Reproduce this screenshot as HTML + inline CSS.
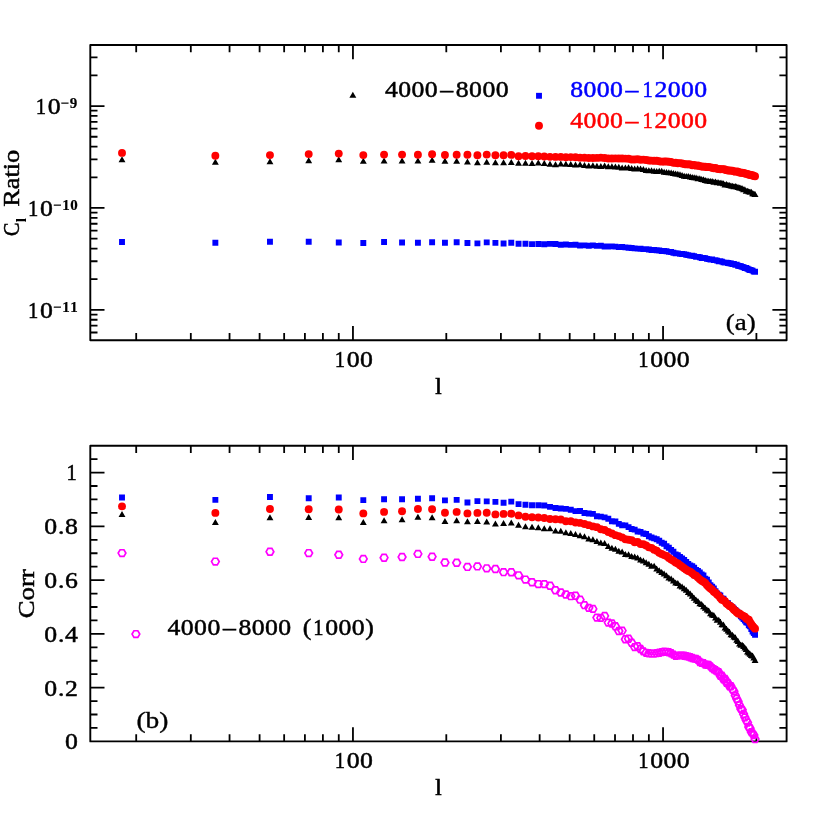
<!DOCTYPE html>
<html><head><meta charset="utf-8"><title>plot</title>
<style>html,body{margin:0;padding:0;background:#fff}svg{display:block;will-change:transform}</style></head>
<body>
<svg width="830" height="830" viewBox="0 0 830 830">
<rect x="90.3" y="45.0" width="696.30" height="295.30" fill="none" stroke="#000" stroke-width="1.9" stroke-linejoin="round"/>
<rect x="90.3" y="445.7" width="696.30" height="295.70" fill="none" stroke="#000" stroke-width="1.9" stroke-linejoin="round"/>
<path fill="none" stroke="#000" stroke-width="1.8" d="M136.20 340.3v-7.2M136.20 45.0v7.2M190.81 340.3v-7.2M190.81 45.0v7.2M229.55 340.3v-7.2M229.55 45.0v7.2M259.60 340.3v-7.2M259.60 45.0v7.2M284.15 340.3v-7.2M284.15 45.0v7.2M304.91 340.3v-7.2M304.91 45.0v7.2M322.90 340.3v-7.2M322.90 45.0v7.2M338.76 340.3v-7.2M338.76 45.0v7.2M352.95 340.3v-14.2M352.95 45.0v14.2M446.30 340.3v-7.2M446.30 45.0v7.2M500.91 340.3v-7.2M500.91 45.0v7.2M539.65 340.3v-7.2M539.65 45.0v7.2M569.70 340.3v-7.2M569.70 45.0v7.2M594.25 340.3v-7.2M594.25 45.0v7.2M615.01 340.3v-7.2M615.01 45.0v7.2M633.00 340.3v-7.2M633.00 45.0v7.2M648.86 340.3v-7.2M648.86 45.0v7.2M663.05 340.3v-14.2M663.05 45.0v14.2M756.40 340.3v-7.2M756.40 45.0v7.2M136.20 741.4v-7.2M136.20 445.7v7.2M190.81 741.4v-7.2M190.81 445.7v7.2M229.55 741.4v-7.2M229.55 445.7v7.2M259.60 741.4v-7.2M259.60 445.7v7.2M284.15 741.4v-7.2M284.15 445.7v7.2M304.91 741.4v-7.2M304.91 445.7v7.2M322.90 741.4v-7.2M322.90 445.7v7.2M338.76 741.4v-7.2M338.76 445.7v7.2M352.95 741.4v-14.2M352.95 445.7v14.2M446.30 741.4v-7.2M446.30 445.7v7.2M500.91 741.4v-7.2M500.91 445.7v7.2M539.65 741.4v-7.2M539.65 445.7v7.2M569.70 741.4v-7.2M569.70 445.7v7.2M594.25 741.4v-7.2M594.25 445.7v7.2M615.01 741.4v-7.2M615.01 445.7v7.2M633.00 741.4v-7.2M633.00 445.7v7.2M648.86 741.4v-7.2M648.86 445.7v7.2M663.05 741.4v-14.2M663.05 445.7v14.2M756.40 741.4v-7.2M756.40 445.7v7.2M90.3 332.50h7.2M786.6 332.50h-7.2M90.3 325.68h7.2M786.6 325.68h-7.2M90.3 319.77h7.2M786.6 319.77h-7.2M90.3 314.55h7.2M786.6 314.55h-7.2M90.3 309.89h14.2M786.6 309.89h-14.2M90.3 279.21h7.2M786.6 279.21h-7.2M90.3 261.26h7.2M786.6 261.26h-7.2M90.3 248.53h7.2M786.6 248.53h-7.2M90.3 238.65h7.2M786.6 238.65h-7.2M90.3 230.58h7.2M786.6 230.58h-7.2M90.3 223.76h7.2M786.6 223.76h-7.2M90.3 217.85h7.2M786.6 217.85h-7.2M90.3 212.63h7.2M786.6 212.63h-7.2M90.3 207.97h14.2M786.6 207.97h-14.2M90.3 177.29h7.2M786.6 177.29h-7.2M90.3 159.34h7.2M786.6 159.34h-7.2M90.3 146.61h7.2M786.6 146.61h-7.2M90.3 136.73h7.2M786.6 136.73h-7.2M90.3 128.66h7.2M786.6 128.66h-7.2M90.3 121.84h7.2M786.6 121.84h-7.2M90.3 115.93h7.2M786.6 115.93h-7.2M90.3 110.71h7.2M786.6 110.71h-7.2M90.3 106.05h14.2M786.6 106.05h-14.2M90.3 75.37h7.2M786.6 75.37h-7.2M90.3 57.42h7.2M786.6 57.42h-7.2M90.3 727.96h7.2M786.6 727.96h-7.2M90.3 714.52h7.2M786.6 714.52h-7.2M90.3 701.08h7.2M786.6 701.08h-7.2M90.3 687.64h14.2M786.6 687.64h-14.2M90.3 674.20h7.2M786.6 674.20h-7.2M90.3 660.75h7.2M786.6 660.75h-7.2M90.3 647.31h7.2M786.6 647.31h-7.2M90.3 633.87h14.2M786.6 633.87h-14.2M90.3 620.43h7.2M786.6 620.43h-7.2M90.3 606.99h7.2M786.6 606.99h-7.2M90.3 593.55h7.2M786.6 593.55h-7.2M90.3 580.11h14.2M786.6 580.11h-14.2M90.3 566.67h7.2M786.6 566.67h-7.2M90.3 553.23h7.2M786.6 553.23h-7.2M90.3 539.79h7.2M786.6 539.79h-7.2M90.3 526.35h14.2M786.6 526.35h-14.2M90.3 512.90h7.2M786.6 512.90h-7.2M90.3 499.46h7.2M786.6 499.46h-7.2M90.3 486.02h7.2M786.6 486.02h-7.2M90.3 472.58h14.2M786.6 472.58h-14.2M90.3 459.14h7.2M786.6 459.14h-7.2"/>
<path fill="#000" d="M118.56 162.15L125.46 162.15L122.01 156.15ZM211.91 164.75L218.81 164.75L215.36 158.75ZM266.52 164.35L273.42 164.35L269.97 158.35ZM305.26 163.15L312.16 163.15L308.71 157.15ZM335.31 162.15L342.21 162.15L338.76 156.15ZM359.86 163.85L366.76 163.85L363.31 157.85ZM380.62 163.55L387.52 163.55L384.07 157.55ZM398.61 163.55L405.51 163.55L402.06 157.55ZM414.47 163.55L421.37 163.55L417.92 157.55ZM428.66 162.85L435.56 162.85L432.11 156.85ZM441.50 163.75L448.40 163.75L444.95 157.75ZM453.21 163.75L460.11 163.75L456.66 157.75ZM463.99 164.55L470.89 164.55L467.44 158.55ZM473.97 165.15L480.87 165.15L477.42 159.15ZM483.27 164.65L490.17 164.65L486.72 158.65ZM491.96 165.25L498.86 165.25L495.41 159.25ZM500.12 165.25L507.02 165.25L503.57 159.25ZM507.82 164.95L514.72 164.95L511.27 158.95ZM515.10 165.75L522.00 165.75L518.55 159.75ZM522.01 165.72L528.91 165.72L525.46 159.72ZM528.58 165.91L535.48 165.91L532.03 159.91ZM534.85 165.54L541.75 165.54L538.30 159.54ZM540.83 166.05L547.73 166.05L544.28 160.05ZM546.56 166.81L553.46 166.81L550.01 160.81ZM552.06 167.14L558.96 167.14L555.51 161.14ZM557.34 166.51L564.24 166.51L560.79 160.51ZM562.43 166.87L569.33 166.87L565.88 160.87ZM567.32 166.91L574.22 166.91L570.77 160.91ZM572.05 167.58L578.95 167.58L575.50 161.58ZM576.62 167.29L583.52 167.29L580.07 161.29ZM581.03 167.99L587.93 167.99L584.48 161.99ZM585.31 168.41L592.21 168.41L588.76 162.41ZM589.45 168.16L596.35 168.16L592.90 162.16ZM593.47 168.83L600.37 168.83L596.92 162.83ZM597.38 168.93L604.28 168.93L600.83 162.93ZM601.17 168.46L608.07 168.46L604.62 162.46ZM604.86 169.32L611.76 169.32L608.31 163.32ZM608.45 169.18L615.35 169.18L611.90 163.18ZM611.95 169.60L618.85 169.60L615.40 163.60ZM615.36 169.69L622.26 169.69L618.81 163.69ZM618.68 170.43L625.58 170.43L622.13 164.43ZM621.93 170.38L628.83 170.38L625.38 164.38ZM625.10 170.30L632.00 170.30L628.55 164.30ZM628.19 171.03L635.09 171.03L631.64 165.03ZM631.22 171.59L638.12 171.59L634.67 165.59ZM634.18 171.30L641.08 171.30L637.63 165.30ZM637.08 171.48L643.98 171.48L640.53 165.48ZM639.91 171.97L646.81 171.97L643.36 165.97ZM642.69 172.92L649.59 172.92L646.14 166.92ZM645.41 173.27L652.31 173.27L648.86 167.27ZM648.08 173.20L654.98 173.20L651.53 167.20ZM650.69 173.79L657.59 173.79L654.14 167.79ZM653.26 174.03L660.16 174.03L656.71 168.03ZM655.78 173.78L662.68 173.78L659.23 167.78ZM658.25 173.76L665.15 173.76L661.70 167.76ZM660.67 174.78L667.57 174.78L664.12 168.78ZM663.06 175.04L669.96 175.04L666.51 169.04ZM665.40 175.21L672.30 175.21L668.85 169.21ZM667.70 175.45L674.60 175.45L671.15 169.45ZM669.96 176.10L676.86 176.10L673.41 170.10ZM672.19 176.61L679.09 176.61L675.64 170.61ZM674.38 176.81L681.28 176.81L677.83 170.81ZM676.54 177.29L683.44 177.29L679.99 171.29ZM678.66 177.93L685.56 177.93L682.11 171.93ZM680.74 178.86L687.64 178.86L684.19 172.86ZM682.80 178.97L689.70 178.97L686.25 172.97ZM684.83 179.04L691.73 179.04L688.28 173.04ZM686.82 179.47L693.72 179.47L690.27 173.47ZM688.79 180.10L695.69 180.10L692.24 174.10ZM690.72 180.21L697.62 180.21L694.17 174.21ZM692.64 180.60L699.54 180.60L696.09 174.60ZM694.52 181.36L701.42 181.36L697.97 175.36ZM696.38 181.22L703.28 181.22L699.83 175.22ZM698.21 182.05L705.11 182.05L701.66 176.05ZM700.02 182.26L706.92 182.26L703.47 176.26ZM701.80 183.02L708.70 183.02L705.25 177.02ZM703.56 183.41L710.46 183.41L707.01 177.41ZM705.30 183.68L712.20 183.68L708.75 177.68ZM707.01 184.01L713.91 184.01L710.46 178.01ZM708.71 183.97L715.61 183.97L712.16 177.97ZM710.38 184.67L717.28 184.67L713.83 178.67ZM712.03 184.61L718.93 184.61L715.48 178.61ZM713.67 185.24L720.57 185.24L717.12 179.24ZM715.28 185.29L722.18 185.29L718.73 179.29ZM716.87 185.78L723.77 185.78L720.32 179.78ZM718.45 185.66L725.35 185.66L721.90 179.66ZM720.00 186.22L726.90 186.22L723.45 180.22ZM721.54 187.44L728.44 187.44L724.99 181.44ZM723.07 186.90L729.97 186.90L726.52 180.90ZM724.57 187.81L731.47 187.81L728.02 181.81ZM726.06 188.12L732.96 188.12L729.51 182.12ZM727.53 188.59L734.43 188.59L730.98 182.59ZM728.99 188.67L735.89 188.67L732.44 182.67ZM730.43 189.22L737.33 189.22L733.88 183.22ZM731.85 188.99L738.75 188.99L735.30 182.99ZM733.26 189.42L740.16 189.42L736.71 183.42ZM734.66 190.00L741.56 190.00L738.11 184.00ZM736.04 190.39L742.94 190.39L739.49 184.39ZM737.41 190.77L744.31 190.77L740.86 184.77ZM738.76 191.27L745.66 191.27L742.21 185.27ZM740.10 192.24L747.00 192.24L743.55 186.24ZM741.43 192.28L748.33 192.28L744.88 186.28ZM742.74 193.68L749.64 193.68L746.19 187.68ZM744.04 193.84L750.94 193.84L747.49 187.84ZM745.33 194.17L752.23 194.17L748.78 188.17ZM746.61 194.87L753.51 194.87L750.06 188.87ZM747.87 194.84L754.77 194.84L751.32 188.84ZM749.12 196.15L756.02 196.15L752.57 190.15ZM750.37 196.56L757.27 196.56L753.82 190.56ZM751.60 196.94L758.50 196.94L755.05 190.94Z"/>
<path fill="#00f" d="M119.06 239.05h5.9v5.9h-5.9ZM212.41 239.85h5.9v5.9h-5.9ZM267.02 238.85h5.9v5.9h-5.9ZM305.76 238.85h5.9v5.9h-5.9ZM335.81 239.55h5.9v5.9h-5.9ZM360.36 240.05h5.9v5.9h-5.9ZM381.12 239.05h5.9v5.9h-5.9ZM399.11 239.55h5.9v5.9h-5.9ZM414.97 239.85h5.9v5.9h-5.9ZM429.16 239.35h5.9v5.9h-5.9ZM442.00 239.85h5.9v5.9h-5.9ZM453.71 239.35h5.9v5.9h-5.9ZM464.49 240.05h5.9v5.9h-5.9ZM474.47 240.45h5.9v5.9h-5.9ZM483.77 239.45h5.9v5.9h-5.9ZM492.46 239.95h5.9v5.9h-5.9ZM500.62 240.55h5.9v5.9h-5.9ZM508.32 239.85h5.9v5.9h-5.9ZM515.60 240.85h5.9v5.9h-5.9ZM522.51 240.74h5.9v5.9h-5.9ZM529.08 241.17h5.9v5.9h-5.9ZM535.35 241.06h5.9v5.9h-5.9ZM541.33 241.29h5.9v5.9h-5.9ZM547.06 240.89h5.9v5.9h-5.9ZM552.56 241.08h5.9v5.9h-5.9ZM557.84 241.74h5.9v5.9h-5.9ZM562.93 241.60h5.9v5.9h-5.9ZM567.82 241.90h5.9v5.9h-5.9ZM572.55 241.82h5.9v5.9h-5.9ZM577.12 242.56h5.9v5.9h-5.9ZM581.53 242.41h5.9v5.9h-5.9ZM585.81 242.82h5.9v5.9h-5.9ZM589.95 242.47h5.9v5.9h-5.9ZM593.97 242.95h5.9v5.9h-5.9ZM597.88 242.85h5.9v5.9h-5.9ZM601.67 243.62h5.9v5.9h-5.9ZM605.36 243.52h5.9v5.9h-5.9ZM608.95 243.46h5.9v5.9h-5.9ZM612.45 243.68h5.9v5.9h-5.9ZM615.86 244.22h5.9v5.9h-5.9ZM619.18 244.12h5.9v5.9h-5.9ZM622.43 244.42h5.9v5.9h-5.9ZM625.60 244.83h5.9v5.9h-5.9ZM628.69 245.12h5.9v5.9h-5.9ZM631.72 245.42h5.9v5.9h-5.9ZM634.68 245.70h5.9v5.9h-5.9ZM637.58 245.78h5.9v5.9h-5.9ZM640.41 246.21h5.9v5.9h-5.9ZM643.19 246.15h5.9v5.9h-5.9ZM645.91 246.49h5.9v5.9h-5.9ZM648.58 247.13h5.9v5.9h-5.9ZM651.19 246.95h5.9v5.9h-5.9ZM653.76 247.27h5.9v5.9h-5.9ZM656.28 247.56h5.9v5.9h-5.9ZM658.75 248.01h5.9v5.9h-5.9ZM661.17 247.98h5.9v5.9h-5.9ZM663.56 248.32h5.9v5.9h-5.9ZM665.90 248.95h5.9v5.9h-5.9ZM668.20 249.09h5.9v5.9h-5.9ZM670.46 249.80h5.9v5.9h-5.9ZM672.69 250.25h5.9v5.9h-5.9ZM674.88 250.46h5.9v5.9h-5.9ZM677.04 250.92h5.9v5.9h-5.9ZM679.16 251.08h5.9v5.9h-5.9ZM681.24 251.21h5.9v5.9h-5.9ZM683.30 251.86h5.9v5.9h-5.9ZM685.33 252.19h5.9v5.9h-5.9ZM687.32 252.71h5.9v5.9h-5.9ZM689.29 252.76h5.9v5.9h-5.9ZM691.22 253.18h5.9v5.9h-5.9ZM693.14 253.95h5.9v5.9h-5.9ZM695.02 253.91h5.9v5.9h-5.9ZM696.88 254.36h5.9v5.9h-5.9ZM698.71 255.06h5.9v5.9h-5.9ZM700.52 254.95h5.9v5.9h-5.9ZM702.30 255.20h5.9v5.9h-5.9ZM704.06 255.94h5.9v5.9h-5.9ZM705.80 256.20h5.9v5.9h-5.9ZM707.51 256.58h5.9v5.9h-5.9ZM709.21 256.52h5.9v5.9h-5.9ZM710.88 257.13h5.9v5.9h-5.9ZM712.53 257.18h5.9v5.9h-5.9ZM714.17 257.68h5.9v5.9h-5.9ZM715.78 258.32h5.9v5.9h-5.9ZM717.37 258.17h5.9v5.9h-5.9ZM718.95 258.63h5.9v5.9h-5.9ZM720.50 259.41h5.9v5.9h-5.9ZM722.04 259.68h5.9v5.9h-5.9ZM723.57 259.64h5.9v5.9h-5.9ZM725.07 260.12h5.9v5.9h-5.9ZM726.56 260.36h5.9v5.9h-5.9ZM728.03 260.57h5.9v5.9h-5.9ZM729.49 261.18h5.9v5.9h-5.9ZM730.93 261.07h5.9v5.9h-5.9ZM732.35 261.91h5.9v5.9h-5.9ZM733.76 261.76h5.9v5.9h-5.9ZM735.16 262.75h5.9v5.9h-5.9ZM736.54 263.05h5.9v5.9h-5.9ZM737.91 263.33h5.9v5.9h-5.9ZM739.26 263.95h5.9v5.9h-5.9ZM740.60 264.27h5.9v5.9h-5.9ZM741.93 264.98h5.9v5.9h-5.9ZM743.24 265.01h5.9v5.9h-5.9ZM744.54 265.79h5.9v5.9h-5.9ZM745.83 266.55h5.9v5.9h-5.9ZM747.11 267.12h5.9v5.9h-5.9ZM748.37 267.15h5.9v5.9h-5.9ZM749.62 267.71h5.9v5.9h-5.9ZM750.87 268.71h5.9v5.9h-5.9ZM752.10 268.86h5.9v5.9h-5.9Z"/>
<g fill="#f00"><circle cx="122.01" cy="152.90" r="3.95"/><circle cx="215.36" cy="155.80" r="3.95"/><circle cx="269.97" cy="155.10" r="3.95"/><circle cx="308.71" cy="154.10" r="3.95"/><circle cx="338.76" cy="153.60" r="3.95"/><circle cx="363.31" cy="155.10" r="3.95"/><circle cx="384.07" cy="154.60" r="3.95"/><circle cx="402.06" cy="154.60" r="3.95"/><circle cx="417.92" cy="154.80" r="3.95"/><circle cx="432.11" cy="154.30" r="3.95"/><circle cx="444.95" cy="155.00" r="3.95"/><circle cx="456.66" cy="154.80" r="3.95"/><circle cx="467.44" cy="154.70" r="3.95"/><circle cx="477.42" cy="155.30" r="3.95"/><circle cx="486.72" cy="154.60" r="3.95"/><circle cx="495.41" cy="155.30" r="3.95"/><circle cx="503.57" cy="155.30" r="3.95"/><circle cx="511.27" cy="154.90" r="3.95"/><circle cx="518.55" cy="156.20" r="3.95"/><circle cx="525.46" cy="156.02" r="3.95"/><circle cx="532.03" cy="156.25" r="3.95"/><circle cx="538.30" cy="156.29" r="3.95"/><circle cx="544.28" cy="156.43" r="3.95"/><circle cx="550.01" cy="156.84" r="3.95"/><circle cx="555.51" cy="156.89" r="3.95"/><circle cx="560.79" cy="156.92" r="3.95"/><circle cx="565.88" cy="157.22" r="3.95"/><circle cx="570.77" cy="157.10" r="3.95"/><circle cx="575.50" cy="157.20" r="3.95"/><circle cx="580.07" cy="157.67" r="3.95"/><circle cx="584.48" cy="157.80" r="3.95"/><circle cx="588.76" cy="158.01" r="3.95"/><circle cx="592.90" cy="158.01" r="3.95"/><circle cx="596.92" cy="157.88" r="3.95"/><circle cx="600.83" cy="157.65" r="3.95"/><circle cx="604.62" cy="158.03" r="3.95"/><circle cx="608.31" cy="158.45" r="3.95"/><circle cx="611.90" cy="158.47" r="3.95"/><circle cx="615.40" cy="158.39" r="3.95"/><circle cx="618.81" cy="158.51" r="3.95"/><circle cx="622.13" cy="158.49" r="3.95"/><circle cx="625.38" cy="158.62" r="3.95"/><circle cx="628.55" cy="158.72" r="3.95"/><circle cx="631.64" cy="159.47" r="3.95"/><circle cx="634.67" cy="159.47" r="3.95"/><circle cx="637.63" cy="159.31" r="3.95"/><circle cx="640.53" cy="159.68" r="3.95"/><circle cx="643.36" cy="159.62" r="3.95"/><circle cx="646.14" cy="159.93" r="3.95"/><circle cx="648.86" cy="160.49" r="3.95"/><circle cx="651.53" cy="160.63" r="3.95"/><circle cx="654.14" cy="160.71" r="3.95"/><circle cx="656.71" cy="160.76" r="3.95"/><circle cx="659.23" cy="161.23" r="3.95"/><circle cx="661.70" cy="161.64" r="3.95"/><circle cx="664.12" cy="161.50" r="3.95"/><circle cx="666.51" cy="161.47" r="3.95"/><circle cx="668.85" cy="161.70" r="3.95"/><circle cx="671.15" cy="161.97" r="3.95"/><circle cx="673.41" cy="162.84" r="3.95"/><circle cx="675.64" cy="162.81" r="3.95"/><circle cx="677.83" cy="163.29" r="3.95"/><circle cx="679.99" cy="163.09" r="3.95"/><circle cx="682.11" cy="163.43" r="3.95"/><circle cx="684.19" cy="164.00" r="3.95"/><circle cx="686.25" cy="164.42" r="3.95"/><circle cx="688.28" cy="164.30" r="3.95"/><circle cx="690.27" cy="164.38" r="3.95"/><circle cx="692.24" cy="165.20" r="3.95"/><circle cx="694.17" cy="165.07" r="3.95"/><circle cx="696.09" cy="165.64" r="3.95"/><circle cx="697.97" cy="165.49" r="3.95"/><circle cx="699.83" cy="166.11" r="3.95"/><circle cx="701.66" cy="166.46" r="3.95"/><circle cx="703.47" cy="166.64" r="3.95"/><circle cx="705.25" cy="166.63" r="3.95"/><circle cx="707.01" cy="167.15" r="3.95"/><circle cx="708.75" cy="166.99" r="3.95"/><circle cx="710.46" cy="167.37" r="3.95"/><circle cx="712.16" cy="167.70" r="3.95"/><circle cx="713.83" cy="168.27" r="3.95"/><circle cx="715.48" cy="168.01" r="3.95"/><circle cx="717.12" cy="168.77" r="3.95"/><circle cx="718.73" cy="168.95" r="3.95"/><circle cx="720.32" cy="169.31" r="3.95"/><circle cx="721.90" cy="169.12" r="3.95"/><circle cx="723.45" cy="169.23" r="3.95"/><circle cx="724.99" cy="169.48" r="3.95"/><circle cx="726.52" cy="170.13" r="3.95"/><circle cx="728.02" cy="170.46" r="3.95"/><circle cx="729.51" cy="170.51" r="3.95"/><circle cx="730.98" cy="170.60" r="3.95"/><circle cx="732.44" cy="170.72" r="3.95"/><circle cx="733.88" cy="171.37" r="3.95"/><circle cx="735.30" cy="171.67" r="3.95"/><circle cx="736.71" cy="171.40" r="3.95"/><circle cx="738.11" cy="171.77" r="3.95"/><circle cx="739.49" cy="172.49" r="3.95"/><circle cx="740.86" cy="172.80" r="3.95"/><circle cx="742.21" cy="172.73" r="3.95"/><circle cx="743.55" cy="173.01" r="3.95"/><circle cx="744.88" cy="173.43" r="3.95"/><circle cx="746.19" cy="173.82" r="3.95"/><circle cx="747.49" cy="173.83" r="3.95"/><circle cx="748.78" cy="174.68" r="3.95"/><circle cx="750.06" cy="174.79" r="3.95"/><circle cx="751.32" cy="175.29" r="3.95"/><circle cx="752.57" cy="175.25" r="3.95"/><circle cx="753.82" cy="176.10" r="3.95"/><circle cx="755.05" cy="176.29" r="3.95"/></g>
<path fill="#000" d="M118.56 517.05L125.46 517.05L122.01 511.05ZM211.91 525.05L218.81 525.05L215.36 519.05ZM266.52 520.25L273.42 520.25L269.97 514.25ZM305.26 519.95L312.16 519.95L308.71 513.95ZM335.31 520.25L342.21 520.25L338.76 514.25ZM359.86 525.05L366.76 525.05L363.31 519.05ZM380.62 523.35L387.52 523.35L384.07 517.35ZM398.61 522.15L405.51 522.15L402.06 516.15ZM414.47 519.75L421.37 519.75L417.92 513.75ZM428.66 520.25L435.56 520.25L432.11 514.25ZM441.50 524.05L448.40 524.05L444.95 518.05ZM453.21 523.15L460.11 523.15L456.66 517.15ZM463.99 524.35L470.89 524.35L467.44 518.35ZM473.97 524.05L480.87 524.05L477.42 518.05ZM483.27 524.55L490.17 524.55L486.72 518.55ZM491.96 526.45L498.86 526.45L495.41 520.45ZM500.12 526.05L507.02 526.05L503.57 520.05ZM507.82 525.55L514.72 525.55L511.27 519.55ZM515.10 527.75L522.00 527.75L518.55 521.75ZM522.01 529.35L528.91 529.35L525.46 523.35ZM528.58 529.75L535.48 529.75L532.03 523.75ZM534.85 530.35L541.75 530.35L538.30 524.35ZM540.83 531.35L547.73 531.35L544.28 525.35ZM546.56 531.34L553.46 531.34L550.01 525.34ZM552.06 533.40L558.96 533.40L555.51 527.40ZM557.34 533.81L564.24 533.81L560.79 527.81ZM562.43 535.37L569.33 535.37L565.88 529.37ZM567.32 535.94L574.22 535.94L570.77 529.94ZM572.05 537.11L578.95 537.11L575.50 531.11ZM576.62 538.14L583.52 538.14L580.07 532.14ZM581.03 539.13L587.93 539.13L584.48 533.13ZM585.31 541.47L592.21 541.47L588.76 535.47ZM589.45 542.34L596.35 542.34L592.90 536.34ZM593.47 543.93L600.37 543.93L596.92 537.93ZM597.38 545.59L604.28 545.59L600.83 539.59ZM601.17 546.06L608.07 546.06L604.62 540.06ZM604.86 549.00L611.76 549.00L608.31 543.00ZM608.45 550.64L615.35 550.64L611.90 544.64ZM611.95 551.84L618.85 551.84L615.40 545.84ZM615.36 553.70L622.26 553.70L618.81 547.70ZM618.68 554.42L625.58 554.42L622.13 548.42ZM621.93 556.96L628.83 556.96L625.38 550.96ZM625.10 557.15L632.00 557.15L628.55 551.15ZM628.19 558.98L635.09 558.98L631.64 552.98ZM631.22 559.39L638.12 559.39L634.67 553.39ZM634.18 560.43L641.08 560.43L637.63 554.43ZM637.08 562.56L643.98 562.56L640.53 556.56ZM639.91 563.56L646.81 563.56L643.36 557.56ZM642.69 565.17L649.59 565.17L646.14 559.17ZM645.41 566.75L652.31 566.75L648.86 560.75ZM648.08 568.63L654.98 568.63L651.53 562.63ZM650.69 568.71L657.59 568.71L654.14 562.71ZM653.26 571.47L660.16 571.47L656.71 565.47ZM655.78 573.15L662.68 573.15L659.23 567.15ZM658.25 575.01L665.15 575.01L661.70 569.01ZM660.67 576.55L667.57 576.55L664.12 570.55ZM663.06 578.30L669.96 578.30L666.51 572.30ZM665.40 580.59L672.30 580.59L668.85 574.59ZM667.70 581.57L674.60 581.57L671.15 575.57ZM669.96 583.44L676.86 583.44L673.41 577.44ZM672.19 585.45L679.09 585.45L675.64 579.45ZM674.38 586.08L681.28 586.08L677.83 580.08ZM676.54 588.42L683.44 588.42L679.99 582.42ZM678.66 589.54L685.56 589.54L682.11 583.54ZM680.74 591.32L687.64 591.32L684.19 585.32ZM682.80 592.80L689.70 592.80L686.25 586.80ZM684.83 594.89L691.73 594.89L688.28 588.89ZM686.82 596.61L693.72 596.61L690.27 590.61ZM688.79 598.86L695.69 598.86L692.24 592.86ZM690.72 600.66L697.62 600.66L694.17 594.66ZM692.64 602.82L699.54 602.82L696.09 596.82ZM694.52 603.89L701.42 603.89L697.97 597.89ZM696.38 606.30L703.28 606.30L699.83 600.30ZM698.21 607.07L705.11 607.07L701.66 601.07ZM700.02 609.36L706.92 609.36L703.47 603.36ZM701.80 610.67L708.70 610.67L705.25 604.67ZM703.56 612.44L710.46 612.44L707.01 606.44ZM705.30 613.45L712.20 613.45L708.75 607.45ZM707.01 616.28L713.91 616.28L710.46 610.28ZM708.71 617.61L715.61 617.61L712.16 611.61ZM710.38 618.11L717.28 618.11L713.83 612.11ZM712.03 620.43L718.93 620.43L715.48 614.43ZM713.67 622.87L720.57 622.87L717.12 616.87ZM715.28 622.77L722.18 622.77L718.73 616.77ZM716.87 624.82L723.77 624.82L720.32 618.82ZM718.45 627.21L725.35 627.21L721.90 621.21ZM720.00 627.55L726.90 627.55L723.45 621.55ZM721.54 630.43L728.44 630.43L724.99 624.43ZM723.07 631.72L729.97 631.72L726.52 625.72ZM724.57 633.61L731.47 633.61L728.02 627.61ZM726.06 634.87L732.96 634.87L729.51 628.87ZM727.53 637.15L734.43 637.15L730.98 631.15ZM728.99 637.65L735.89 637.65L732.44 631.65ZM730.43 639.62L737.33 639.62L733.88 633.62ZM731.85 640.21L738.75 640.21L735.30 634.21ZM733.26 642.63L740.16 642.63L736.71 636.63ZM734.66 643.89L741.56 643.89L738.11 637.89ZM736.04 646.38L742.94 646.38L739.49 640.38ZM737.41 647.76L744.31 647.76L740.86 641.76ZM738.76 647.74L745.66 647.74L742.21 641.74ZM740.10 648.99L747.00 648.99L743.55 642.99ZM741.43 650.54L748.33 650.54L744.88 644.54ZM742.74 652.07L749.64 652.07L746.19 646.07ZM744.04 654.41L750.94 654.41L747.49 648.41ZM745.33 655.45L752.23 655.45L748.78 649.45ZM746.61 656.79L753.51 656.79L750.06 650.79ZM747.87 658.01L754.77 658.01L751.32 652.01ZM749.12 658.52L756.02 658.52L752.57 652.52ZM750.37 660.53L757.27 660.53L753.82 654.53ZM751.60 662.93L758.50 662.93L755.05 656.93Z"/>
<path fill="#00f" d="M119.06 494.55h5.9v5.9h-5.9ZM212.41 496.95h5.9v5.9h-5.9ZM267.02 494.05h5.9v5.9h-5.9ZM305.76 495.25h5.9v5.9h-5.9ZM335.81 494.55h5.9v5.9h-5.9ZM360.36 497.15h5.9v5.9h-5.9ZM381.12 496.25h5.9v5.9h-5.9ZM399.11 496.25h5.9v5.9h-5.9ZM414.97 495.75h5.9v5.9h-5.9ZM429.16 495.25h5.9v5.9h-5.9ZM442.00 497.45h5.9v5.9h-5.9ZM453.71 496.95h5.9v5.9h-5.9ZM464.49 499.55h5.9v5.9h-5.9ZM474.47 498.15h5.9v5.9h-5.9ZM483.77 498.45h5.9v5.9h-5.9ZM492.46 498.95h5.9v5.9h-5.9ZM500.62 499.85h5.9v5.9h-5.9ZM508.32 498.65h5.9v5.9h-5.9ZM515.60 501.15h5.9v5.9h-5.9ZM522.51 501.85h5.9v5.9h-5.9ZM529.08 502.25h5.9v5.9h-5.9ZM535.35 502.25h5.9v5.9h-5.9ZM541.33 502.55h5.9v5.9h-5.9ZM547.06 503.91h5.9v5.9h-5.9ZM552.56 504.99h5.9v5.9h-5.9ZM557.84 505.55h5.9v5.9h-5.9ZM562.93 505.94h5.9v5.9h-5.9ZM567.82 506.73h5.9v5.9h-5.9ZM572.55 508.17h5.9v5.9h-5.9ZM577.12 508.03h5.9v5.9h-5.9ZM581.53 510.04h5.9v5.9h-5.9ZM585.81 510.57h5.9v5.9h-5.9ZM589.95 510.95h5.9v5.9h-5.9ZM593.97 513.27h5.9v5.9h-5.9ZM597.88 513.72h5.9v5.9h-5.9ZM601.67 514.46h5.9v5.9h-5.9ZM605.36 515.83h5.9v5.9h-5.9ZM608.95 518.24h5.9v5.9h-5.9ZM612.45 518.54h5.9v5.9h-5.9ZM615.86 520.92h5.9v5.9h-5.9ZM619.18 522.29h5.9v5.9h-5.9ZM622.43 522.42h5.9v5.9h-5.9ZM625.60 524.21h5.9v5.9h-5.9ZM628.69 525.98h5.9v5.9h-5.9ZM631.72 526.69h5.9v5.9h-5.9ZM634.68 528.48h5.9v5.9h-5.9ZM637.58 528.88h5.9v5.9h-5.9ZM640.41 530.48h5.9v5.9h-5.9ZM643.19 531.03h5.9v5.9h-5.9ZM645.91 533.28h5.9v5.9h-5.9ZM648.58 534.53h5.9v5.9h-5.9ZM651.19 535.39h5.9v5.9h-5.9ZM653.76 536.35h5.9v5.9h-5.9ZM656.28 537.83h5.9v5.9h-5.9ZM658.75 539.81h5.9v5.9h-5.9ZM661.17 540.80h5.9v5.9h-5.9ZM663.56 543.27h5.9v5.9h-5.9ZM665.90 544.86h5.9v5.9h-5.9ZM668.20 546.89h5.9v5.9h-5.9ZM670.46 548.80h5.9v5.9h-5.9ZM672.69 551.53h5.9v5.9h-5.9ZM674.88 552.30h5.9v5.9h-5.9ZM677.04 554.12h5.9v5.9h-5.9ZM679.16 555.61h5.9v5.9h-5.9ZM681.24 556.89h5.9v5.9h-5.9ZM683.30 559.00h5.9v5.9h-5.9ZM685.33 561.09h5.9v5.9h-5.9ZM687.32 562.59h5.9v5.9h-5.9ZM689.29 563.34h5.9v5.9h-5.9ZM691.22 564.68h5.9v5.9h-5.9ZM693.14 566.89h5.9v5.9h-5.9ZM695.02 567.90h5.9v5.9h-5.9ZM696.88 569.57h5.9v5.9h-5.9ZM698.71 571.49h5.9v5.9h-5.9ZM700.52 572.49h5.9v5.9h-5.9ZM702.30 575.72h5.9v5.9h-5.9ZM704.06 576.64h5.9v5.9h-5.9ZM705.80 579.47h5.9v5.9h-5.9ZM707.51 582.25h5.9v5.9h-5.9ZM709.21 583.78h5.9v5.9h-5.9ZM710.88 585.54h5.9v5.9h-5.9ZM712.53 588.18h5.9v5.9h-5.9ZM714.17 590.40h5.9v5.9h-5.9ZM715.78 591.77h5.9v5.9h-5.9ZM717.37 592.57h5.9v5.9h-5.9ZM718.95 595.49h5.9v5.9h-5.9ZM720.50 595.63h5.9v5.9h-5.9ZM722.04 598.15h5.9v5.9h-5.9ZM723.57 599.92h5.9v5.9h-5.9ZM725.07 600.13h5.9v5.9h-5.9ZM726.56 602.10h5.9v5.9h-5.9ZM728.03 603.76h5.9v5.9h-5.9ZM729.49 604.30h5.9v5.9h-5.9ZM730.93 605.82h5.9v5.9h-5.9ZM732.35 606.92h5.9v5.9h-5.9ZM733.76 608.41h5.9v5.9h-5.9ZM735.16 609.68h5.9v5.9h-5.9ZM736.54 611.28h5.9v5.9h-5.9ZM737.91 613.36h5.9v5.9h-5.9ZM739.26 614.65h5.9v5.9h-5.9ZM740.60 616.19h5.9v5.9h-5.9ZM741.93 617.51h5.9v5.9h-5.9ZM743.24 619.29h5.9v5.9h-5.9ZM744.54 619.92h5.9v5.9h-5.9ZM745.83 622.34h5.9v5.9h-5.9ZM747.11 623.35h5.9v5.9h-5.9ZM748.37 626.04h5.9v5.9h-5.9ZM749.62 628.61h5.9v5.9h-5.9ZM750.87 630.06h5.9v5.9h-5.9ZM752.10 631.85h5.9v5.9h-5.9Z"/>
<g fill="#f00"><circle cx="122.01" cy="506.40" r="3.95"/><circle cx="215.36" cy="512.90" r="3.95"/><circle cx="269.97" cy="509.00" r="3.95"/><circle cx="308.71" cy="509.30" r="3.95"/><circle cx="338.76" cy="509.50" r="3.95"/><circle cx="363.31" cy="513.40" r="3.95"/><circle cx="384.07" cy="511.90" r="3.95"/><circle cx="402.06" cy="511.20" r="3.95"/><circle cx="417.92" cy="509.00" r="3.95"/><circle cx="432.11" cy="509.30" r="3.95"/><circle cx="444.95" cy="512.70" r="3.95"/><circle cx="456.66" cy="511.90" r="3.95"/><circle cx="467.44" cy="513.40" r="3.95"/><circle cx="477.42" cy="512.90" r="3.95"/><circle cx="486.72" cy="512.80" r="3.95"/><circle cx="495.41" cy="514.40" r="3.95"/><circle cx="503.57" cy="513.90" r="3.95"/><circle cx="511.27" cy="513.70" r="3.95"/><circle cx="518.55" cy="515.40" r="3.95"/><circle cx="525.46" cy="516.80" r="3.95"/><circle cx="532.03" cy="517.30" r="3.95"/><circle cx="538.30" cy="517.50" r="3.95"/><circle cx="544.28" cy="518.00" r="3.95"/><circle cx="550.01" cy="518.98" r="3.95"/><circle cx="555.51" cy="519.27" r="3.95"/><circle cx="560.79" cy="519.45" r="3.95"/><circle cx="565.88" cy="521.21" r="3.95"/><circle cx="570.77" cy="521.32" r="3.95"/><circle cx="575.50" cy="522.49" r="3.95"/><circle cx="580.07" cy="522.88" r="3.95"/><circle cx="584.48" cy="524.07" r="3.95"/><circle cx="588.76" cy="525.16" r="3.95"/><circle cx="592.90" cy="526.41" r="3.95"/><circle cx="596.92" cy="527.13" r="3.95"/><circle cx="600.83" cy="529.30" r="3.95"/><circle cx="604.62" cy="529.96" r="3.95"/><circle cx="608.31" cy="531.97" r="3.95"/><circle cx="611.90" cy="533.47" r="3.95"/><circle cx="615.40" cy="535.17" r="3.95"/><circle cx="618.81" cy="536.12" r="3.95"/><circle cx="622.13" cy="537.41" r="3.95"/><circle cx="625.38" cy="539.19" r="3.95"/><circle cx="628.55" cy="539.70" r="3.95"/><circle cx="631.64" cy="540.32" r="3.95"/><circle cx="634.67" cy="542.29" r="3.95"/><circle cx="637.63" cy="541.95" r="3.95"/><circle cx="640.53" cy="544.10" r="3.95"/><circle cx="643.36" cy="544.24" r="3.95"/><circle cx="646.14" cy="545.40" r="3.95"/><circle cx="648.86" cy="547.35" r="3.95"/><circle cx="651.53" cy="547.85" r="3.95"/><circle cx="654.14" cy="549.63" r="3.95"/><circle cx="656.71" cy="550.66" r="3.95"/><circle cx="659.23" cy="552.83" r="3.95"/><circle cx="661.70" cy="554.00" r="3.95"/><circle cx="664.12" cy="555.12" r="3.95"/><circle cx="666.51" cy="556.03" r="3.95"/><circle cx="668.85" cy="557.89" r="3.95"/><circle cx="671.15" cy="559.54" r="3.95"/><circle cx="673.41" cy="560.71" r="3.95"/><circle cx="675.64" cy="562.51" r="3.95"/><circle cx="677.83" cy="563.48" r="3.95"/><circle cx="679.99" cy="565.28" r="3.95"/><circle cx="682.11" cy="566.70" r="3.95"/><circle cx="684.19" cy="568.24" r="3.95"/><circle cx="686.25" cy="569.65" r="3.95"/><circle cx="688.28" cy="570.92" r="3.95"/><circle cx="690.27" cy="571.79" r="3.95"/><circle cx="692.24" cy="573.14" r="3.95"/><circle cx="694.17" cy="575.04" r="3.95"/><circle cx="696.09" cy="575.68" r="3.95"/><circle cx="697.97" cy="577.58" r="3.95"/><circle cx="699.83" cy="579.36" r="3.95"/><circle cx="701.66" cy="580.74" r="3.95"/><circle cx="703.47" cy="581.78" r="3.95"/><circle cx="705.25" cy="583.06" r="3.95"/><circle cx="707.01" cy="585.17" r="3.95"/><circle cx="708.75" cy="586.94" r="3.95"/><circle cx="710.46" cy="588.41" r="3.95"/><circle cx="712.16" cy="589.82" r="3.95"/><circle cx="713.83" cy="591.64" r="3.95"/><circle cx="715.48" cy="592.72" r="3.95"/><circle cx="717.12" cy="594.58" r="3.95"/><circle cx="718.73" cy="595.87" r="3.95"/><circle cx="720.32" cy="598.02" r="3.95"/><circle cx="721.90" cy="599.82" r="3.95"/><circle cx="723.45" cy="600.08" r="3.95"/><circle cx="724.99" cy="601.26" r="3.95"/><circle cx="726.52" cy="603.61" r="3.95"/><circle cx="728.02" cy="604.38" r="3.95"/><circle cx="729.51" cy="605.89" r="3.95"/><circle cx="730.98" cy="606.52" r="3.95"/><circle cx="732.44" cy="607.90" r="3.95"/><circle cx="733.88" cy="609.80" r="3.95"/><circle cx="735.30" cy="610.80" r="3.95"/><circle cx="736.71" cy="612.23" r="3.95"/><circle cx="738.11" cy="613.42" r="3.95"/><circle cx="739.49" cy="613.55" r="3.95"/><circle cx="740.86" cy="614.81" r="3.95"/><circle cx="742.21" cy="615.33" r="3.95"/><circle cx="743.55" cy="616.12" r="3.95"/><circle cx="744.88" cy="616.73" r="3.95"/><circle cx="746.19" cy="618.48" r="3.95"/><circle cx="747.49" cy="619.13" r="3.95"/><circle cx="748.78" cy="619.80" r="3.95"/><circle cx="750.06" cy="622.11" r="3.95"/><circle cx="751.32" cy="624.17" r="3.95"/><circle cx="752.57" cy="625.89" r="3.95"/><circle cx="753.82" cy="627.36" r="3.95"/><circle cx="755.05" cy="628.64" r="3.95"/></g>
<path fill="none" stroke="#f0f" stroke-width="1.7" stroke-linejoin="miter" d="M125.86 553.10L123.94 556.43L120.09 556.43L118.16 553.10L120.09 549.77L123.94 549.77ZM219.21 561.60L217.28 564.93L213.43 564.93L211.51 561.60L213.43 558.27L217.28 558.27ZM273.82 551.70L271.89 555.03L268.04 555.03L266.12 551.70L268.04 548.37L271.89 548.37ZM312.56 553.10L310.63 556.43L306.78 556.43L304.86 553.10L306.78 549.77L310.63 549.77ZM342.61 554.80L340.69 558.13L336.84 558.13L334.91 554.80L336.84 551.47L340.69 551.47ZM367.16 558.90L365.24 562.23L361.39 562.23L359.46 558.90L361.39 555.57L365.24 555.57ZM387.92 557.70L386.00 561.03L382.15 561.03L380.22 557.70L382.15 554.37L386.00 554.37ZM405.91 557.00L403.98 560.33L400.13 560.33L398.21 557.00L400.13 553.67L403.98 553.67ZM421.77 553.90L419.85 557.23L416.00 557.23L414.07 553.90L416.00 550.57L419.85 550.57ZM435.96 556.70L434.04 560.03L430.19 560.03L428.26 556.70L430.19 553.37L434.04 553.37ZM448.80 562.50L446.87 565.83L443.02 565.83L441.10 562.50L443.02 559.17L446.87 559.17ZM460.51 562.80L458.59 566.13L454.74 566.13L452.81 562.80L454.74 559.47L458.59 559.47ZM471.29 566.90L469.37 570.23L465.52 570.23L463.59 566.90L465.52 563.57L469.37 563.57ZM481.27 566.40L479.35 569.73L475.50 569.73L473.57 566.40L475.50 563.07L479.35 563.07ZM490.57 568.32L488.64 571.66L484.79 571.66L482.87 568.32L484.79 564.99L488.64 564.99ZM499.26 569.05L497.33 572.39L493.48 572.39L491.56 569.05L493.48 565.72L497.33 565.72ZM507.42 572.15L505.50 575.49L501.65 575.49L499.72 572.15L501.65 568.82L505.50 568.82ZM515.12 572.20L513.20 575.53L509.35 575.53L507.42 572.20L509.35 568.87L513.20 568.87ZM522.40 575.32L520.48 578.65L516.63 578.65L514.70 575.32L516.63 571.98L520.48 571.98ZM529.31 579.57L527.38 582.90L523.53 582.90L521.61 579.57L523.53 576.23L527.38 576.23ZM535.88 582.29L533.96 585.63L530.11 585.63L528.18 582.29L530.11 578.96L533.96 578.96ZM542.15 584.07L540.22 587.40L536.37 587.40L534.45 584.07L536.37 580.74L540.22 580.74ZM548.13 584.12L546.21 587.46L542.36 587.46L540.43 584.12L542.36 580.79L546.21 580.79ZM553.86 585.71L551.94 589.05L548.09 589.05L546.16 585.71L548.09 582.38L551.94 582.38ZM559.36 590.26L557.44 593.60L553.59 593.60L551.66 590.26L553.59 586.93L557.44 586.93ZM564.64 592.48L562.72 595.81L558.87 595.81L556.94 592.48L558.87 589.14L562.72 589.14ZM569.73 594.50L567.80 597.83L563.95 597.83L562.03 594.50L563.95 591.16L567.80 591.16ZM574.62 596.18L572.70 599.51L568.85 599.51L566.92 596.18L568.85 592.85L572.70 592.85ZM579.35 595.73L577.42 599.06L573.57 599.06L571.65 595.73L573.57 592.40L577.42 592.40ZM583.92 599.65L581.99 602.99L578.14 602.99L576.22 599.65L578.14 596.32L581.99 596.32ZM588.33 605.18L586.41 608.52L582.56 608.52L580.63 605.18L582.56 601.85L586.41 601.85ZM592.61 607.87L590.68 611.21L586.83 611.21L584.91 607.87L586.83 604.54L590.68 604.54ZM596.75 608.88L594.83 612.21L590.98 612.21L589.05 608.88L590.98 605.55L594.83 605.55ZM600.77 617.62L598.85 620.96L595.00 620.96L593.07 617.62L595.00 614.29L598.85 614.29ZM604.68 617.89L602.75 621.22L598.90 621.22L596.98 617.89L598.90 614.55L602.75 614.55ZM608.47 615.94L606.54 619.27L602.69 619.27L600.77 615.94L602.69 612.60L606.54 612.60ZM612.16 622.62L610.23 625.96L606.38 625.96L604.46 622.62L606.38 619.29L610.23 619.29ZM615.75 623.48L613.83 626.82L609.98 626.82L608.05 623.48L609.98 620.15L613.83 620.15ZM619.25 626.30L617.32 629.63L613.47 629.63L611.55 626.30L613.47 622.97L617.32 622.97ZM622.66 631.03L620.73 634.37L616.88 634.37L614.96 631.03L616.88 627.70L620.73 627.70ZM625.98 630.69L624.06 634.02L620.21 634.02L618.28 630.69L620.21 627.36L624.06 627.36ZM629.23 639.21L627.30 642.54L623.45 642.54L621.53 639.21L623.45 635.87L627.30 635.87ZM632.40 638.70L630.47 642.04L626.62 642.04L624.70 638.70L626.62 635.37L630.47 635.37ZM635.49 642.80L633.57 646.14L629.72 646.14L627.79 642.80L629.72 639.47L633.57 639.47ZM638.52 647.07L636.60 650.40L632.75 650.40L630.82 647.07L632.75 643.73L636.60 643.73ZM641.48 646.25L639.56 649.58L635.71 649.58L633.78 646.25L635.71 642.91L639.56 642.91ZM644.38 649.05L642.45 652.39L638.60 652.39L636.68 649.05L638.60 645.72L642.45 645.72ZM647.21 651.39L645.29 654.73L641.44 654.73L639.51 651.39L641.44 648.06L645.29 648.06ZM649.99 652.82L648.06 656.15L644.21 656.15L642.29 652.82L644.21 649.48L648.06 649.48ZM652.71 653.28L650.79 656.62L646.94 656.62L645.01 653.28L646.94 649.95L650.79 649.95ZM655.38 653.61L653.45 656.94L649.60 656.94L647.68 653.61L649.60 650.27L653.45 650.27ZM657.99 653.48L656.07 656.81L652.22 656.81L650.29 653.48L652.22 650.14L656.07 650.14ZM660.56 653.17L658.63 656.50L654.78 656.50L652.86 653.17L654.78 649.83L658.63 649.83ZM663.08 652.73L661.15 656.06L657.30 656.06L655.38 652.73L657.30 649.39L661.15 649.39ZM665.55 652.13L663.62 655.47L659.77 655.47L657.85 652.13L659.77 648.80L663.62 648.80ZM667.97 651.63L666.05 654.96L662.20 654.96L660.27 651.63L662.20 648.29L666.05 648.29ZM670.36 651.92L668.43 655.25L664.58 655.25L662.66 651.92L664.58 648.59L668.43 648.59ZM672.70 652.21L670.77 655.54L666.92 655.54L665.00 652.21L666.92 648.87L670.77 648.87ZM675.00 653.26L673.08 656.60L669.23 656.60L667.30 653.26L669.23 649.93L673.08 649.93ZM677.26 654.67L675.34 658.00L671.49 658.00L669.56 654.67L671.49 651.33L675.34 651.33ZM679.49 655.87L677.57 659.21L673.72 659.21L671.79 655.87L673.72 652.54L677.57 652.54ZM681.68 655.61L679.76 658.94L675.91 658.94L673.98 655.61L675.91 652.27L679.76 652.27ZM683.84 655.35L681.91 658.68L678.06 658.68L676.14 655.35L678.06 652.01L681.91 652.01ZM685.96 655.38L684.03 658.71L680.18 658.71L678.26 655.38L680.18 652.04L684.03 652.04ZM688.04 655.78L686.12 659.12L682.27 659.12L680.34 655.78L682.27 652.45L686.12 652.45ZM690.10 656.18L688.18 659.52L684.33 659.52L682.40 656.18L684.33 652.85L688.18 652.85ZM692.13 656.58L690.20 659.91L686.35 659.91L684.43 656.58L686.35 653.24L690.20 653.24ZM694.12 657.27L692.20 660.60L688.35 660.60L686.42 657.27L688.35 653.93L692.20 653.93ZM696.09 657.97L694.16 661.30L690.31 661.30L688.39 657.97L690.31 654.63L694.16 654.63ZM698.02 658.66L696.10 661.99L692.25 661.99L690.32 658.66L692.25 655.32L696.10 655.32ZM699.94 658.83L698.01 662.16L694.16 662.16L692.24 658.83L694.16 655.49L698.01 655.49ZM701.82 659.92L699.89 663.26L696.04 663.26L694.12 659.92L696.04 656.59L699.89 656.59ZM703.68 661.97L701.75 665.31L697.90 665.31L695.98 661.97L697.90 658.64L701.75 658.64ZM705.51 662.91L703.58 666.24L699.73 666.24L697.81 662.91L699.73 659.57L703.58 659.57ZM707.32 663.14L705.39 666.48L701.54 666.48L699.62 663.14L701.54 659.81L705.39 659.81ZM709.10 664.49L707.18 667.82L703.33 667.82L701.40 664.49L703.33 661.15L707.18 661.15ZM710.86 664.80L708.94 668.14L705.09 668.14L703.16 664.80L705.09 661.47L708.94 661.47ZM712.60 664.82L710.67 668.16L706.82 668.16L704.90 664.82L706.82 661.49L710.67 661.49ZM714.31 666.33L712.39 669.67L708.54 669.67L706.61 666.33L708.54 663.00L712.39 663.00ZM716.01 668.16L714.08 671.49L710.23 671.49L708.31 668.16L710.23 664.83L714.08 664.83ZM717.68 669.25L715.76 672.58L711.91 672.58L709.98 669.25L711.91 665.91L715.76 665.91ZM719.33 670.28L717.41 673.62L713.56 673.62L711.63 670.28L713.56 666.95L717.41 666.95ZM720.97 671.36L719.04 674.69L715.19 674.69L713.27 671.36L715.19 668.02L719.04 668.02ZM722.58 672.24L720.65 675.58L716.80 675.58L714.88 672.24L716.80 668.91L720.65 668.91ZM724.17 675.90L722.25 679.23L718.40 679.23L716.47 675.90L718.40 672.56L722.25 672.56ZM725.75 675.80L723.82 679.13L719.97 679.13L718.05 675.80L719.97 672.46L723.82 672.46ZM727.30 679.28L725.38 682.61L721.53 682.61L719.60 679.28L721.53 675.94L725.38 675.94ZM728.84 678.87L726.92 682.20L723.07 682.20L721.14 678.87L723.07 675.53L726.92 675.53ZM730.37 682.78L728.44 686.12L724.59 686.12L722.67 682.78L724.59 679.45L728.44 679.45ZM731.87 683.30L729.95 686.63L726.10 686.63L724.17 683.30L726.10 679.96L729.95 679.96ZM733.36 686.29L731.43 689.62L727.58 689.62L725.66 686.29L727.58 682.95L731.43 682.95ZM734.83 686.28L732.91 689.62L729.06 689.62L727.13 686.28L729.06 682.95L732.91 682.95ZM736.29 689.24L734.36 692.57L730.51 692.57L728.59 689.24L730.51 685.90L734.36 685.90ZM737.73 691.22L735.80 694.55L731.95 694.55L730.03 691.22L731.95 687.89L735.80 687.89ZM739.15 695.55L737.23 698.89L733.38 698.89L731.45 695.55L733.38 692.22L737.23 692.22ZM740.56 698.71L738.64 702.04L734.79 702.04L732.86 698.71L734.79 695.37L738.64 695.37ZM741.96 701.42L740.03 704.76L736.18 704.76L734.26 701.42L736.18 698.09L740.03 698.09ZM743.34 705.16L741.41 708.50L737.56 708.50L735.64 705.16L737.56 701.83L741.41 701.83ZM744.71 708.92L742.78 712.26L738.93 712.26L737.01 708.92L738.93 705.59L742.78 705.59ZM746.06 709.87L744.14 713.21L740.29 713.21L738.36 709.87L740.29 706.54L744.14 706.54ZM747.40 714.05L745.48 717.38L741.63 717.38L739.70 714.05L741.63 710.71L745.48 710.71ZM748.73 717.37L746.80 720.70L742.95 720.70L741.03 717.37L742.95 714.03L746.80 714.03ZM750.04 720.33L748.12 723.67L744.27 723.67L742.34 720.33L744.27 717.00L748.12 717.00ZM751.34 722.48L749.42 725.81L745.57 725.81L743.64 722.48L745.57 719.14L749.42 719.14ZM752.63 726.96L750.71 730.29L746.86 730.29L744.93 726.96L746.86 723.62L750.71 723.62ZM753.91 728.26L751.98 731.60L748.13 731.60L746.21 728.26L748.13 724.93L751.98 724.93ZM755.17 732.09L753.25 735.42L749.40 735.42L747.47 732.09L749.40 728.75L753.25 728.75ZM756.42 733.55L754.50 736.89L750.65 736.89L748.72 733.55L750.65 730.22L754.50 730.22ZM757.67 735.11L755.74 738.44L751.89 738.44L749.97 735.11L751.89 731.78L755.74 731.78ZM758.90 738.98L756.97 742.31L753.12 742.31L751.20 738.98L753.12 735.64L756.97 735.64Z"/>
<g font-family="'Liberation Serif', serif">
<text transform="translate(0,367.3) scale(1.12,1)" x="303.44 315.31 327.19" y="0" font-size="23" text-anchor="middle" fill="#000" stroke="#000" stroke-width="0.5"><tspan textLength="9.20" lengthAdjust="spacingAndGlyphs">1</tspan>00</text>
<text transform="translate(0,367.3) scale(1.12,1)" x="574.46 586.34 598.21 610.09" y="0" font-size="23" text-anchor="middle" fill="#000" stroke="#000" stroke-width="0.5"><tspan textLength="9.20" lengthAdjust="spacingAndGlyphs">1</tspan>000</text>
<text transform="translate(0,768.4) scale(1.12,1)" x="303.44 315.31 327.19" y="0" font-size="23" text-anchor="middle" fill="#000" stroke="#000" stroke-width="0.5"><tspan textLength="9.20" lengthAdjust="spacingAndGlyphs">1</tspan>00</text>
<text transform="translate(0,768.4) scale(1.12,1)" x="574.46 586.34 598.21 610.09" y="0" font-size="23" text-anchor="middle" fill="#000" stroke="#000" stroke-width="0.5"><tspan textLength="9.20" lengthAdjust="spacingAndGlyphs">1</tspan>000</text>
<text x="438.5" y="393.7" font-size="23" text-anchor="middle" fill="#000" stroke="#000" stroke-width="0.7">l</text>
<text x="438.5" y="794.5" font-size="23" text-anchor="middle" fill="#000" stroke="#000" stroke-width="0.7">l</text>
<text transform="translate(0,114.25) scale(1.12,1)" x="36.47 48.35" y="0" font-size="23" text-anchor="middle" fill="#000" stroke="#000" stroke-width="0.5"><tspan textLength="9.20" lengthAdjust="spacingAndGlyphs">1</tspan>0</text>
<text transform="translate(0,107.64999999999999) scale(1.0,1)" x="64.70 73.50" y="0" font-size="15" text-anchor="middle" fill="#000" stroke="#000" stroke-width="0.2" font-weight="bold">−9</text>
<text transform="translate(0,216.17) scale(1.12,1)" x="29.60 41.47" y="0" font-size="23" text-anchor="middle" fill="#000" stroke="#000" stroke-width="0.5"><tspan textLength="9.20" lengthAdjust="spacingAndGlyphs">1</tspan>0</text>
<text transform="translate(0,209.57) scale(1.0,1)" x="57.20 66.00 74.00" y="0" font-size="15" text-anchor="middle" fill="#000" stroke="#000" stroke-width="0.2" font-weight="bold">−10</text>
<text transform="translate(0,318.09999999999997) scale(1.12,1)" x="29.60 41.47" y="0" font-size="23" text-anchor="middle" fill="#000" stroke="#000" stroke-width="0.5"><tspan textLength="9.20" lengthAdjust="spacingAndGlyphs">1</tspan>0</text>
<text transform="translate(0,311.5) scale(1.0,1)" x="57.20 66.00 74.00" y="0" font-size="15" text-anchor="middle" fill="#000" stroke="#000" stroke-width="0.2" font-weight="bold">−11</text>
<text transform="translate(0,749.3) scale(1.12,1)" x="63.88" y="0" font-size="23" text-anchor="middle" fill="#000" stroke="#000" stroke-width="0.5">0</text>
<text transform="translate(0,695.5363636363636) scale(1.12,1)" x="45.31 54.60 63.88" y="0" font-size="23" text-anchor="middle" fill="#000" stroke="#000" stroke-width="0.5">0.2</text>
<text transform="translate(0,641.7727272727273) scale(1.12,1)" x="45.31 54.60 63.88" y="0" font-size="23" text-anchor="middle" fill="#000" stroke="#000" stroke-width="0.5">0.4</text>
<text transform="translate(0,588.0090909090909) scale(1.12,1)" x="45.31 54.60 63.88" y="0" font-size="23" text-anchor="middle" fill="#000" stroke="#000" stroke-width="0.5">0.6</text>
<text transform="translate(0,534.2454545454544) scale(1.12,1)" x="45.31 54.60 63.88" y="0" font-size="23" text-anchor="middle" fill="#000" stroke="#000" stroke-width="0.5">0.8</text>
<text transform="translate(0,480.48181818181814) scale(1.12,1)" x="63.88" y="0" font-size="23" text-anchor="middle" fill="#000" stroke="#000" stroke-width="0.5"><tspan textLength="9.20" lengthAdjust="spacingAndGlyphs">1</tspan></text>
<g transform="translate(18.6,235.4) rotate(-90)">
<text x="-0.6" y="0" font-size="23" text-anchor="start" fill="#000" stroke="#000" stroke-width="0.5" textLength="13.4" lengthAdjust="spacingAndGlyphs">C</text>
<text x="13.1" y="7.3" font-size="15.5" text-anchor="start" fill="#000" stroke="#000" stroke-width="0" font-weight="bold">l</text>
<text x="28.6" y="0" font-size="23" text-anchor="start" fill="#000" stroke="#000" stroke-width="0.5" textLength="57" lengthAdjust="spacingAndGlyphs">Ratio</text>
</g>
<g transform="translate(33.7,618.3) rotate(-90)">
<text x="0" y="0" font-size="23" text-anchor="start" fill="#000" stroke="#000" stroke-width="0.5" textLength="49" lengthAdjust="spacingAndGlyphs">Corr</text>
</g>
<text transform="translate(0,97.3) scale(1.12,1)" x="349.42 361.29 373.17 385.04 398.88 412.72 424.60 436.47 448.35" y="0" font-size="23" text-anchor="middle" fill="#000" stroke="#000" stroke-width="0.5">4000–8000</text>
<text transform="translate(0,97.4) scale(1.12,1)" x="514.87 526.74 538.62 550.49 564.33 578.17 590.04 601.92 613.79 625.67" y="0" font-size="23" text-anchor="middle" fill="#00f" stroke="#00f" stroke-width="0.5">8000–<tspan textLength="9.20" lengthAdjust="spacingAndGlyphs">1</tspan>2000</text>
<text transform="translate(0,128.1) scale(1.12,1)" x="514.87 526.74 538.62 550.49 564.33 578.17 590.04 601.92 613.79 625.67" y="0" font-size="23" text-anchor="middle" fill="#f00" stroke="#f00" stroke-width="0.5">4000–<tspan textLength="9.20" lengthAdjust="spacingAndGlyphs">1</tspan>2000</text>
<text x="725.8" y="330.4" font-size="23" text-anchor="start" fill="#000" stroke="#000" stroke-width="0.35" textLength="30" lengthAdjust="spacingAndGlyphs">(a)</text>
<text x="136.4" y="728.2" font-size="23" text-anchor="start" fill="#000" stroke="#000" stroke-width="0.35" textLength="32" lengthAdjust="spacingAndGlyphs">(b)</text>
<text transform="translate(0,635.2) scale(1.12,1)" x="155.31 167.19 179.06 190.94 204.78 218.62 230.49 242.37 254.24 265.09 274.15 284.24 296.12 307.99 319.87 329.96" y="0" font-size="23" text-anchor="middle" fill="#000" stroke="#000" stroke-width="0.5">4000–8000 (<tspan textLength="9.20" lengthAdjust="spacingAndGlyphs">1</tspan>000)</text>
</g>
<path fill="#000" d="M349.40 97.70L356.30 97.70L352.85 91.70Z"/>
<path fill="#00f" d="M536.05 92.85h5.9v5.9h-5.9Z"/>
<circle cx="539" cy="125.7" r="3.95" fill="#f00"/>
<path fill="none" stroke="#f0f" stroke-width="1.7" d="M139.75 634.10L137.83 637.43L133.97 637.43L132.05 634.10L133.97 630.77L137.83 630.77Z"/>
</svg>
</body></html>
